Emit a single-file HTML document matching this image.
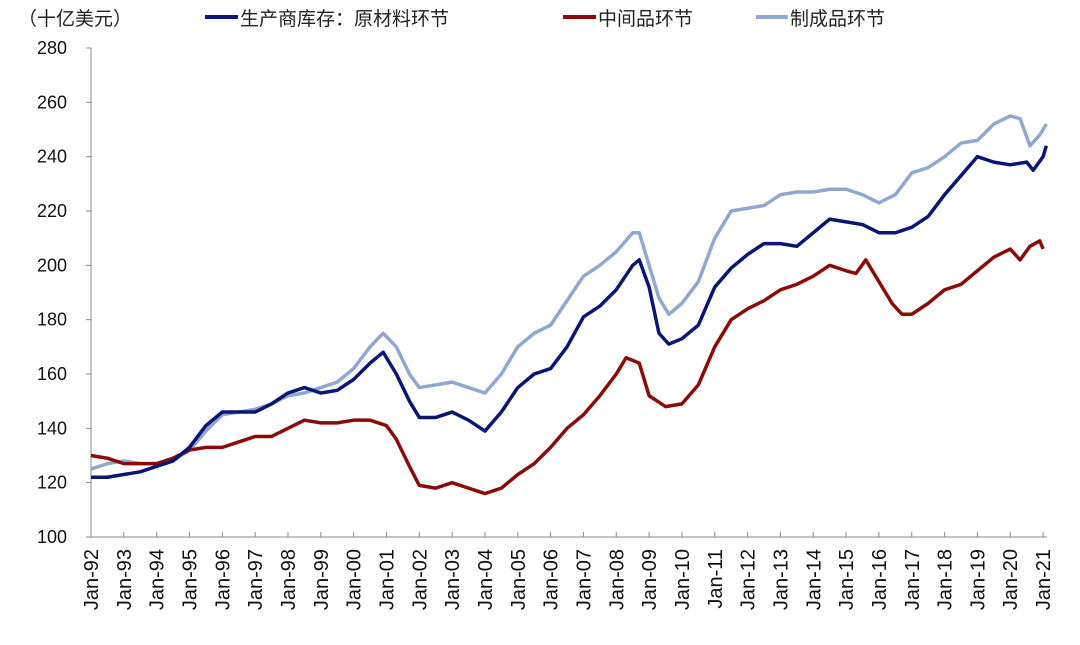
<!DOCTYPE html>
<html><head><meta charset="utf-8"><style>
body{margin:0;background:#fff;width:1080px;height:640px;overflow:hidden}
svg text{font-family:"Liberation Sans","Noto Sans CJK SC",sans-serif}
</style></head><body>
<svg id="c" width="1080" height="640">
<text x="18" y="25" font-size="19" fill="#222">（十亿美元）</text>
<g>
<line x1="205" y1="17" x2="238" y2="17" stroke="#0b1574" stroke-width="4"/>
<text x="240" y="25" font-size="19" fill="#222">生产商库存：原材料环节</text>
<line x1="563" y1="17" x2="596" y2="17" stroke="#8b0a0a" stroke-width="4"/>
<text x="598" y="25" font-size="19" fill="#222">中间品环节</text>
<line x1="756" y1="17" x2="788" y2="17" stroke="#8fa8cf" stroke-width="4"/>
<text x="790" y="25" font-size="19" fill="#222">制成品环节</text>
</g>
</svg>
<script>
const yTicks=[100,120,140,160,180,200,220,240,260,280];
const xYears=[1992,1993,1994,1995,1996,1997,1998,1999,2000,2001,2002,2003,2004,2005,2006,2007,2008,2009,2010,2011,2012,2013,2014,2015,2016,2017,2018,2019,2020,2021];
const rawT=[1992,1992.5,1993,1993.5,1994,1994.5,1995,1995.5,1996,1996.5,1997,1997.5,1998,1998.5,1999,1999.5,2000,2000.5,2000.9,2001.3,2001.7,2002,2002.5,2003,2003.5,2004,2004.5,2005,2005.5,2006,2006.5,2007,2007.5,2008,2008.5,2008.7,2009,2009.3,2009.6,2010,2010.5,2011,2011.5,2012,2012.5,2013,2013.5,2014,2014.5,2015,2015.5,2016,2016.5,2017,2017.5,2018,2018.5,2019,2019.5,2020,2020.5,2020.7,2021,2021.1];
const rawV=[122,122,123,124,126,128,133,141,146,146,146,149,153,155,153,154,158,164,168,160,150,144,144,146,143,139,146,155,160,162,170,181,185,191,200,202,192,175,171,173,178,192,199,204,208,208,207,212,217,216,215,212,212,214,218,226,233,240,238,237,238,235,240,244];
const midT=[1992,1992.5,1993,1993.5,1994,1994.5,1995,1995.5,1996,1996.5,1997,1997.5,1998,1998.5,1999,1999.5,2000,2000.5,2001,2001.3,2001.7,2002,2002.5,2003,2003.5,2004,2004.5,2005,2005.5,2006,2006.5,2007,2007.5,2008,2008.3,2008.7,2009,2009.5,2010,2010.5,2011,2011.5,2012,2012.5,2013,2013.5,2014,2014.5,2015,2015.3,2015.6,2016,2016.4,2016.7,2017,2017.5,2018,2018.5,2019,2019.5,2020,2020.3,2020.6,2020.9,2021];
const midV=[130,129,127,127,127,129,132,133,133,135,137,137,140,143,142,142,143,143,141,136,126,119,118,120,118,116,118,123,127,133,140,145,152,160,166,164,152,148,149,156,170,180,184,187,191,193,196,200,198,197,202,194,186,182,182,186,191,193,198,203,206,202,207,209,206];
const finT=[1992,1992.5,1993,1993.5,1994,1994.5,1995,1995.5,1996,1996.5,1997,1997.5,1998,1998.5,1999,1999.5,2000,2000.5,2000.9,2001.3,2001.7,2002,2002.5,2003,2003.5,2004,2004.5,2005,2005.5,2006,2006.5,2007,2007.5,2008,2008.5,2008.7,2009,2009.3,2009.6,2010,2010.5,2011,2011.5,2012,2012.5,2013,2013.5,2014,2014.5,2015,2015.5,2016,2016.5,2017,2017.5,2018,2018.5,2019,2019.5,2020,2020.3,2020.6,2020.9,2021.1];
const finV=[125,127,128,127,127,128,132,139,145,146,147,149,152,153,155,157,162,170,175,170,160,155,156,157,155,153,160,170,175,178,187,196,200,205,212,212,200,188,182,186,194,210,220,221,222,226,227,227,228,228,226,223,226,234,236,240,245,246,252,255,254,244,248,252];
const svg=document.getElementById('c'),NS='http://www.w3.org/2000/svg';
const X0=91,XS=32.83,Y0=537,YS=489/180;
const sx=t=>X0+(t-1992)*XS, sy=v=>Y0-(v-100)*YS;
function mk(tag,at){const e=document.createElementNS(NS,tag);for(const k in at)e.setAttribute(k,at[k]);svg.appendChild(e);return e;}
const ya=mk('line',{x1:X0,y1:sy(280),x2:X0,y2:Y0,stroke:'#888'});


const xa=mk('line',{x1:X0,y1:Y0,x2:sx(2021)+4,y2:Y0,stroke:'#888'});


yTicks.forEach(v=>{
 const tk=mk('line',{x1:X0-5,y1:sy(v),x2:X0,y2:sy(v),stroke:'#888'});
 
 
 const t=mk('text',{x:67,y:sy(v)+6,'font-size':18,'text-anchor':'end',fill:'#111'});
 t.textContent=v;
 
 
});
xYears.forEach(y=>{
 const x=sx(y);
 const tk=mk('line',{x1:x,y1:Y0,x2:x,y2:Y0-5,stroke:'#888'});
 
 
 const t=mk('text',{x:x+7,y:549,'font-size':20,'text-anchor':'end',fill:'#111',transform:`rotate(-90 ${x+7} 549)`});
 t.textContent='Jan-'+String(y%100).padStart(2,'0');
 
 
});
function line(T,V,col,name){
 const p=mk('polyline',{points:T.map((t,i)=>sx(t)+','+sy(V[i])).join(' '),fill:'none',stroke:col,'stroke-width':3.5,'stroke-linejoin':'round'});
 
 
}
line(finT,finV,'#8fa8cf','series-finished');
line(midT,midV,'#8b0a0a','series-intermediate');
line(rawT,rawV,'#0b1574','series-raw');
</script>
</body></html>
